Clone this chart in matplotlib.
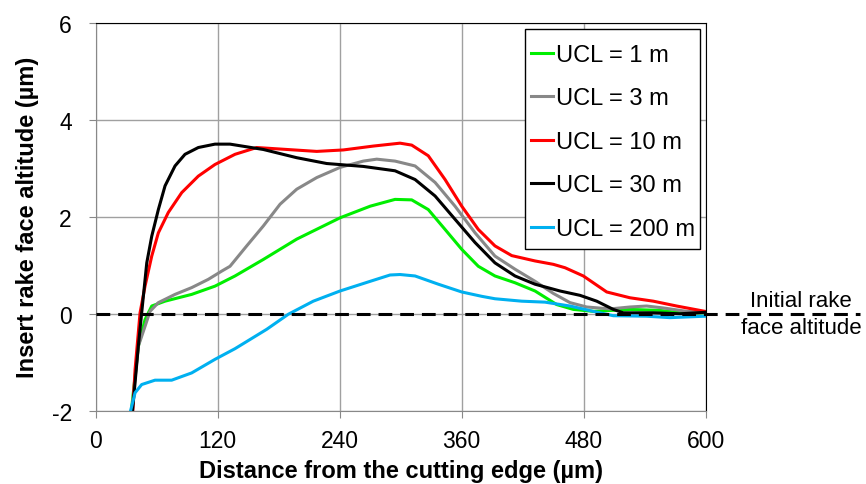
import matplotlib
matplotlib.use("Agg")
import matplotlib.pyplot as plt
from matplotlib.patches import Rectangle

plt.rcParams['font.family'] = ['Liberation Sans', 'DejaVu Sans']
plt.rcParams['axes.unicode_minus'] = False

# ---- data ----
x_1m = [35, 42.1, 48.7, 55.3, 68.4, 94.6, 117.5, 137.2, 165.0, 197.9, 240.5, 270.2, 294.6, 311.0,
        327.3, 343.8, 360.2, 376.5, 392.9, 412.6, 432.3, 453.6, 470.0, 489.6, 525.7, 555, 575, 599.5]
y_1m = [-2.05, -0.67, -0.12, 0.16, 0.26, 0.40, 0.57, 0.78, 1.12, 1.54, 1.98, 2.22, 2.36, 2.35,
        2.15, 1.74, 1.33, 0.98, 0.78, 0.64, 0.47, 0.19, 0.09, 0.05, 0.09, 0.07, 0.02, 0.02]

x_3m = [35.5, 42.1, 48.7, 53.6, 61.8, 78.2, 94.6, 110.9, 124.1, 132.3, 148.7, 165.0, 181.5, 197.9,
        217.6, 240.5, 263.4, 276.6, 294.6, 314.3, 334.0, 353.6, 373.3, 392.9, 412.6, 432.3, 450.3,
        466.7, 483.1, 506.1, 525.7, 542.1, 558.5, 581.5, 599.5]
y_3m = [-2.05, -0.67, -0.26, 0.05, 0.23, 0.40, 0.54, 0.71, 0.88, 0.98, 1.40, 1.81, 2.26, 2.57,
        2.81, 3.02, 3.15, 3.19, 3.15, 3.05, 2.71, 2.22, 1.67, 1.19, 0.92, 0.67, 0.42,
        0.23, 0.14, 0.10, 0.14, 0.16, 0.12, 0.05, 0.03]

x_10m = [36.5, 38.9, 43.8, 48.7, 55.3, 61.8, 71.6, 84.8, 101.1, 117.5, 137.2, 158.6, 188.1, 217.6,
         243.7, 273.2, 299.5, 311.0, 327.3, 343.8, 360.2, 376.5, 392.9, 409.4, 432.3, 450.3, 461.8,
         479.8, 502.8, 525.7, 548.6, 571.6, 599.5]
y_10m = [-2.05, -1.15, 0.02, 0.57, 1.19, 1.67, 2.09, 2.50, 2.84, 3.08, 3.29, 3.43, 3.39, 3.35,
         3.38, 3.46, 3.52, 3.48, 3.26, 2.77, 2.22, 1.74, 1.40, 1.20, 1.09, 1.02, 0.95,
         0.78, 0.45, 0.33, 0.26, 0.16, 0.05]

x_30m = [36.2, 42.1, 45.4, 50.4, 55.3, 61.8, 68.4, 78.2, 88.0, 101.1, 117.5, 132.3, 165.0, 197.9,
         227.4, 263.4, 294.6, 314.3, 334.0, 353.6, 373.3, 392.9, 412.6, 432.3, 456.9, 476.6, 493.0,
         509.3, 519.1, 548.6, 574.9, 599.5]
y_30m = [-2.05, -0.67, 0.02, 1.05, 1.60, 2.15, 2.64, 3.05, 3.29, 3.43, 3.50, 3.50, 3.39, 3.22,
         3.10, 3.04, 2.95, 2.77, 2.43, 1.95, 1.47, 1.05, 0.78, 0.61, 0.47, 0.38, 0.26,
         0.09, 0.02, 0.02, 0.0, 0.03]

x_200m = [33.9, 38.9, 45.4, 58.5, 74.9, 94.6, 117.5, 137.2, 168.4, 189.6, 214.2, 240.5, 270.2, 289.7,
          299.5, 314.3, 337.2, 360.2, 379.9, 392.9, 419.2, 442.1, 466.7, 489.6, 509.3, 542, 565, 599.5]
y_200m = [-2.05, -1.63, -1.46, -1.37, -1.37, -1.22, -0.94, -0.72, -0.32, -0.01, 0.26, 0.47, 0.67, 0.80,
          0.81, 0.78, 0.61, 0.45, 0.36, 0.31, 0.26, 0.24, 0.16, 0.05, -0.04, -0.05, -0.08, -0.05]

labels = ["UCL = 1 m", "UCL = 3 m", "UCL = 10 m", "UCL = 30 m", "UCL = 200 m"]
colors = ["#00ee00", "#888888", "#ff0000", "#000000", "#00b0f0"]
xs_all = [x_1m, x_3m, x_10m, x_30m, x_200m]
ys_all = [y_1m, y_3m, y_10m, y_30m, y_200m]

x_ticks = [0, 120, 240, 360, 480, 600]
y_ticks = [-2, 0, 2, 4, 6]

fig = plt.figure(figsize=(8.66, 4.85), dpi=100)
ax = fig.add_axes([0.1103, 0.1511, 0.7044, 0.7995])

ax.set_xlim(0, 600)
ax.set_ylim(-2, 6)
ax.set_xticks(x_ticks)
ax.set_yticks(y_ticks)
ax.grid(True, color="#a0a0a0", linewidth=1.0)
ax.set_axisbelow(True)

for lab, xs, ys, c in zip(labels, xs_all, ys_all, colors):
    ax.plot(xs, ys, color=c, linewidth=2.2, label=lab, solid_joinstyle='round')

# reference line (extends beyond the axes)
ax.plot([0, 752], [0, 0], color="black", linewidth=2.2, dashes=(4.5, 2.6), clip_on=False, zorder=5)
ax.text(694, 0.06, "Initial rake", ha="center", va="bottom", fontsize=16, clip_on=False)
ax.text(694, -0.06, "face altitude", ha="center", va="top", fontsize=16, clip_on=False)

ax.tick_params(axis='x', labelsize=16.5, length=5, color="#888888", direction='out', pad=8)
ax.tick_params(axis='y', labelsize=16.5, length=5, color="#888888", direction='out', pad=12)
for s in ["left", "bottom"]:
    ax.spines[s].set_color("#888888")
for s in ["top", "right"]:
    ax.spines[s].set_color("#000000")

ax.set_xlabel("Distance from the cutting edge (µm)", fontsize=17, fontweight="bold", labelpad=5)
ax.set_ylabel("Insert rake face altitude (µm)", fontsize=17, fontweight="bold", labelpad=9)

# legend frame drawn as a separate box, entries without their own frame
ax.add_patch(Rectangle((0.704, 0.417), 0.287, 0.5675, transform=ax.transAxes,
                       facecolor="white", edgecolor="black", linewidth=1.0, zorder=6))
leg = ax.legend(loc="upper left", fontsize=17, frameon=False,
                handlelength=0.95, handletextpad=0.12,
                labelspacing=0.91, borderpad=0.0, borderaxespad=0,
                bbox_to_anchor=(0.7134, 0.946))
leg.set_zorder(7)

fig.savefig("out.png", dpi=100)
